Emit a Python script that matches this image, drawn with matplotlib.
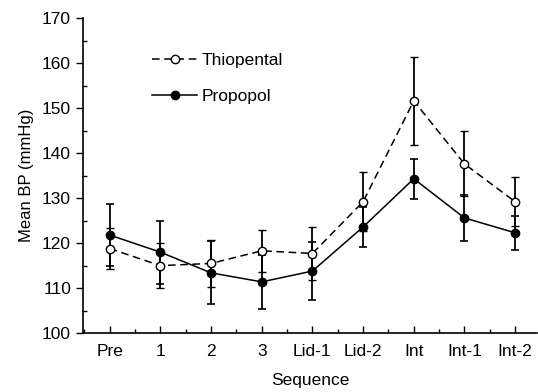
import matplotlib
matplotlib.use('Agg')
import matplotlib.pyplot as plt
from matplotlib.ticker import MultipleLocator

plt.rcParams['font.family'] = ['Liberation Sans', 'DejaVu Sans']

sequence = ['Pre', '1', '2', '3', 'Lid-1', 'Lid-2', 'Int', 'Int-1', 'Int-2']
thiopental = [118.8, 115.0, 115.5, 118.3, 117.7, 129.2, 151.6, 137.6, 129.2]
thiopental_err = [4.6, 5.0, 5.2, 4.7, 5.8, 6.5, 9.8, 7.2, 5.5]
propofol = [121.8, 118.0, 113.4, 111.4, 113.8, 123.6, 134.3, 125.6, 122.3]
propofol_err = [6.8, 7.0, 7.0, 6.0, 6.4, 4.5, 4.4, 5.2, 3.8]

x = list(range(len(sequence)))

fig = plt.figure(figsize=(5.38, 3.92), dpi=100)
ax = fig.add_axes([0.154, 0.150, 0.844, 0.804])

thio = ax.errorbar(x, thiopental, yerr=thiopental_err, color='black', linestyle='--',
                   dashes=(5, 3), linewidth=1.1, marker='o', markersize=6,
                   markerfacecolor='white', markeredgecolor='black', markeredgewidth=1.0,
                   ecolor='black', elinewidth=1.3, capsize=3, capthick=1.2)
prop = ax.errorbar(x, propofol, yerr=propofol_err, color='black', linestyle='-',
                   linewidth=1.1, marker='o', markersize=6,
                   markerfacecolor='black', markeredgecolor='black',
                   ecolor='black', elinewidth=1.3, capsize=3, capthick=1.2)

ax.set_xlim(-0.53, 8.43)
ax.set_ylim(100, 170)
ax.set_xticks(x)
ax.set_xticklabels(sequence)
ax.xaxis.set_minor_locator(MultipleLocator(0.5))
ax.yaxis.set_major_locator(MultipleLocator(10))
ax.yaxis.set_minor_locator(MultipleLocator(5))

ax.tick_params(axis='x', which='major', direction='in', length=5, width=1,
               labelsize=12.5, pad=8)
ax.tick_params(axis='x', which='minor', direction='in', length=3, width=1)
ax.tick_params(axis='y', which='major', direction='out', length=5, width=1,
               labelsize=12.5)
ax.tick_params(axis='y', which='minor', direction='in', length=3, width=1)

for s in ['top', 'right']:
    ax.spines[s].set_visible(False)
ax.spines['left'].set_linewidth(1.2)
ax.spines['bottom'].set_linewidth(1.2)

ax.set_xlabel('Sequence', fontsize=12.5, labelpad=10)
ax.set_ylabel('Mean BP (mmHg)', fontsize=12, labelpad=6)

ax.legend(handles=[thio[0], prop[0]], labels=['Thiopental', 'Propopol'],
          loc='upper left', bbox_to_anchor=(152 / 538, 1 - 53 / 392),
          bbox_transform=fig.transFigure, frameon=False, fontsize=12.5,
          handlelength=2.6, handletextpad=0.25, labelspacing=1.2,
          borderpad=0, borderaxespad=0)

fig.savefig('out.png', dpi=100)
